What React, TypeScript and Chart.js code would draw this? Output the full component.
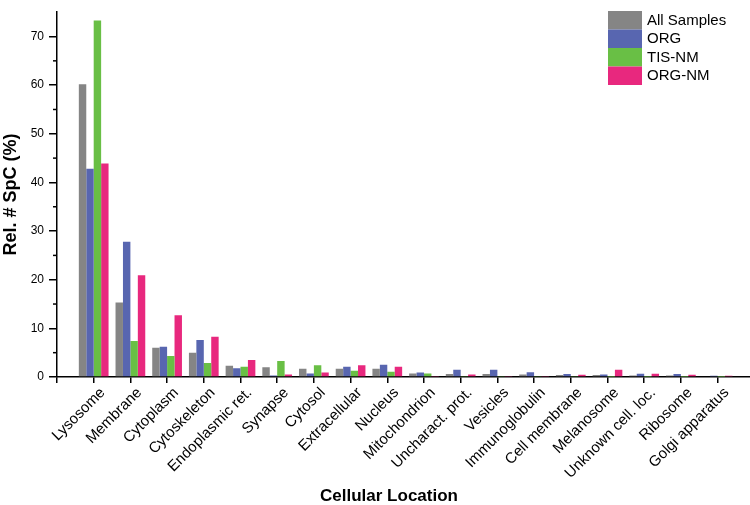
import React, { useEffect, useRef } from "react";
import { Chart, registerables } from "chart.js";

Chart.register(...registerables);

const categories = [
  "Lysosome", "Membrane", "Cytoplasm", "Cytoskeleton", "Endoplasmic ret.", "Synapse",
  "Cytosol", "Extracellular", "Nucleus", "Mitochondrion", "Uncharact. prot.", "Vesicles",
  "Immunoglobulin", "Cell membrane", "Melanosome", "Unknown cell. loc.", "Ribosome", "Golgi apparatus",
];
const allSamples = [60.2, 15.3, 6.0, 5.0, 2.3, 2.0, 1.7, 1.7, 1.7, 0.7, 0.6, 0.6, 0.5, 0.4, 0.4, 0.3, 0.3, 0.15];
const org = [42.8, 27.8, 6.2, 7.6, 1.8, 0.3, 0.7, 2.1, 2.5, 0.9, 1.5, 1.5, 1.0, 0.6, 0.5, 0.65, 0.6, 0.25];
const tisNm = [73.3, 7.4, 4.3, 2.9, 2.1, 3.3, 2.4, 1.3, 1.1, 0.7, 0.2, 0.1, 0.1, 0.2, 0.05, 0.05, 0.05, 0.05];
const orgNm = [43.9, 20.9, 12.7, 8.3, 3.5, 0.5, 0.9, 2.4, 2.1, 0.2, 0.5, 0.2, 0.2, 0.45, 1.5, 0.65, 0.45, 0.25];
const seriesNames = ["All Samples", "ORG", "TIS-NM", "ORG-NM"];
const seriesColors = ["#858585", "#5866b0", "#69bf45", "#e8287e"];
const yMax = 75;
const yMinorTicks = [5, 15, 25, 35, 45, 55, 65];
const xTitle = "Cellular Location";
const yTitle = "Rel. # SpC (%)";

const FONT = "'Liberation Sans', Arial, sans-serif";

export default function App() {
  const ref = useRef<HTMLCanvasElement | null>(null);

  useEffect(() => {
    if (!ref.current) return;
    const pad = (a: number[]) => [null, ...a, null];
    const labels = ["", ...categories, ""];
    const series = [allSamples, org, tisNm, orgNm];

    const extras = {
      id: "extras",
      afterDraw(chart: any) {
        const ctx = chart.ctx;
        const y = chart.scales.y;
        const left = chart.chartArea.left;
        ctx.save();
        // minor ticks
        ctx.strokeStyle = "#000";
        ctx.lineWidth = 1.5;
        yMinorTicks.forEach((v) => {
          const py = y.getPixelForValue(v);
          ctx.beginPath();
          ctx.moveTo(left - 4, py);
          ctx.lineTo(left, py);
          ctx.stroke();
        });
        // legend
        const bx = 608, by = 11, bw = 34, rh = 18.5;
        ctx.font = `15px ${FONT}`;
        ctx.textBaseline = "middle";
        ctx.textAlign = "left";
        chart.data.datasets.forEach((ds: any, i: number) => {
          ctx.fillStyle = ds.backgroundColor;
          ctx.fillRect(bx, by + i * rh, bw, rh);
          ctx.fillStyle = "#000";
          ctx.fillText(ds.label, bx + bw + 5, by + i * rh + rh / 2 + 0.5);
        });
        // x title
        ctx.font = `bold 17px ${FONT}`;
        ctx.textAlign = "center";
        ctx.textBaseline = "middle";
        ctx.fillText(xTitle, 389, 496);
        ctx.restore();
      },
    };

    const chart = new Chart(ref.current, {
      type: "bar",
      data: {
        labels,
        datasets: series.map((s, i) => ({
          label: seriesNames[i],
          data: pad(s),
          backgroundColor: seriesColors[i],
          borderWidth: 0,
          categoryPercentage: 0.81,
          barPercentage: 1.0,
        })),
      },
      options: {
        animation: false,
        responsive: true,
        maintainAspectRatio: false,
        layout: { padding: { top: 2, left: 0, right: 0, bottom: 0 } },
        plugins: { legend: { display: false }, tooltip: { enabled: false } },
        scales: {
          x: {
            offset: false,
            grid: {
              offset: false,
              drawOnChartArea: false,
              tickLength: 6,
              color: "#000",
              lineWidth: 1.5,
            },
            border: { display: true, color: "#000", width: 1.5 },
            ticks: {
              autoSkip: false,
              minRotation: 45,
              maxRotation: 45,
              labelOffset: 9,
              padding: 1,
              color: "#000",
              font: { family: FONT, size: 15 },
            },
            afterFit(scale: any) {
              scale.height = 128;
            },
          },
          y: {
            min: 0,
            max: yMax,
            grid: {
              drawOnChartArea: false,
              tickLength: 8,
              lineWidth: 1.5,
              color: (c: any) => (c.tick && c.tick.value % 10 === 0 ? "#000" : "rgba(0,0,0,0)"),
            },
            border: { display: true, color: "#000", width: 1.5 },
            ticks: {
              stepSize: 5,
              maxTicksLimit: 20,
              autoSkip: false,
              padding: 5,
              color: "#000",
              font: { family: FONT, size: 12 },
              callback: (v: any) => (Number(v) % 10 === 0 && Number(v) <= 70 ? String(v) : ""),
            },
            title: {
              display: true,
              text: yTitle,
              color: "#000",
              font: { family: FONT, size: 18, weight: "bold" },
              padding: { top: 0, bottom: 0 },
            },
            afterFit(scale: any) {
              scale.width = 57;
            },
          },
        },
      },
      plugins: [extras],
    } as any);
    return () => chart.destroy();
  }, []);

  return (
    <div
      style={{
        position: "fixed",
        left: 0,
        top: 0,
        width: 750,
        height: 505,
        overflow: "hidden",
        background: "#fff",
      }}
    >
      <div style={{ position: "relative", width: 768, height: 505 }}>
        <canvas ref={ref} />
      </div>
    </div>
  );
}
